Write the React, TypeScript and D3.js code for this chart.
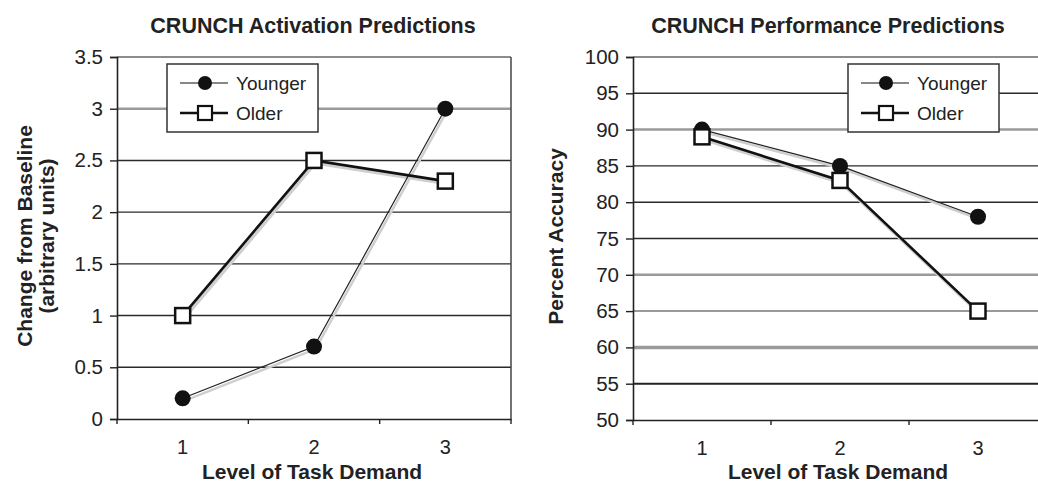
import * as d3 from "d3";
import { FC, useEffect, useRef } from "react";

// shared categories
const levels = ["1", "2", "3"];

// left panel data
const activationYounger = [0.2, 0.7, 3.0];
const activationOlder = [1.0, 2.5, 2.3];
const activationTicks = [0, 0.5, 1, 1.5, 2, 2.5, 3, 3.5];

// right panel data
const performanceYounger = [90, 85, 78];
const performanceOlder = [89, 83, 65];
const performanceTicks = [50, 55, 60, 65, 70, 75, 80, 85, 90, 95, 100];

const FONT = "'Liberation Sans', Arial, Helvetica, sans-serif";

// scanned gridlines are not uniform, so some ticks get lighter / heavier lines
type GridStyle = { color: string; width: number };
const defaultGrid: GridStyle = { color: "#2a2a2a", width: 1.4 };

interface PanelProps {
  title: string;
  yTitle: string[];
  younger: number[];
  older: number[];
  ticks: number[];
  box: { left: number; right: number; top: number; bottom: number };
  titleX: number;
  xTitleX: number;
  yTitleX: number[];
  legendX: number;
  showRightBorder: boolean;
  gridStyles: Record<string, GridStyle>;
}

const Panel: FC<PanelProps> = (p) => {
  const ref = useRef<SVGGElement>(null);

  useEffect(() => {
    const g = d3.select(ref.current);
    g.selectAll("*").remove();

    const { left, right, top, bottom } = p.box;
    const x = d3.scaleBand().domain(levels).range([left, right]);
    const y = d3
      .scaleLinear()
      .domain(d3.extent(p.ticks) as [number, number])
      .range([bottom, top]);

    // gridlines
    g.selectAll("line.grid")
      .data(p.ticks.slice(1))
      .enter()
      .append("line")
      .attr("x1", left)
      .attr("x2", right)
      .attr("y1", (d) => y(d))
      .attr("y2", (d) => y(d))
      .attr("stroke", (d) => (p.gridStyles[String(d)] || defaultGrid).color)
      .attr("stroke-width", (d) => (p.gridStyles[String(d)] || defaultGrid).width);

    if (p.showRightBorder) {
      g.append("line")
        .attr("x1", right)
        .attr("x2", right)
        .attr("y1", top)
        .attr("y2", bottom)
        .attr("stroke", "#444")
        .attr("stroke-width", 1.5);
    }

    // axes
    const yAxis = d3
      .axisLeft(y)
      .tickValues(p.ticks)
      .tickSize(7)
      .tickPadding(7)
      .tickFormat((d) => String(d));
    const ya = g.append("g").attr("transform", `translate(${left},0)`).call(yAxis);
    ya.select(".domain").attr("stroke", "#222").attr("stroke-width", 1.6);
    ya.selectAll(".tick line").attr("stroke", "#222").attr("stroke-width", 1.4);
    ya.selectAll(".tick text")
      .attr("font-family", FONT)
      .attr("font-size", 20.5)
      .attr("fill", "#222");

    const xAxis = d3.axisBottom(x).tickSize(0).tickPadding(21);
    const xa = g.append("g").attr("transform", `translate(0,${bottom})`).call(xAxis);
    xa.select(".domain").attr("stroke", "#222").attr("stroke-width", 1.6);
    xa.selectAll(".tick text")
      .attr("font-family", FONT)
      .attr("font-size", 20)
      .attr("fill", "#222");
    // category boundary ticks
    const bounds = [...levels.map((l) => x(l) as number), right];
    g.selectAll("line.xtick")
      .data(bounds)
      .enter()
      .append("line")
      .attr("x1", (d) => d)
      .attr("x2", (d) => d)
      .attr("y1", bottom)
      .attr("y2", bottom + 5)
      .attr("stroke", "#222")
      .attr("stroke-width", 1.4);

    const cx = (_: number, i: number) => (x(levels[i]) as number) + x.bandwidth() / 2;
    const line = d3.line<number>().x(cx).y((d) => y(d));
    const shadow = d3
      .line<number>()
      .x((d, i) => cx(d, i) + 1.5)
      .y((d) => y(d) + 2.5);

    // soft drop shadows
    [p.younger, p.older].forEach((s, k) => {
      g.append("path")
        .datum(s)
        .attr("d", shadow)
        .attr("fill", "none")
        .attr("stroke", "#cfcfcf")
        .attr("stroke-width", k === 0 ? 2.5 : 3.5);
    });

    // series lines
    g.append("path")
      .datum(p.younger)
      .attr("d", line)
      .attr("fill", "none")
      .attr("stroke", "#222")
      .attr("stroke-width", 1.2);
    g.append("path")
      .datum(p.older)
      .attr("d", line)
      .attr("fill", "none")
      .attr("stroke", "#111")
      .attr("stroke-width", 2.6);

    // markers
    g.selectAll("circle.young")
      .data(p.younger)
      .enter()
      .append("circle")
      .attr("cx", cx)
      .attr("cy", (d) => y(d))
      .attr("r", 8)
      .attr("fill", "#111");
    g.selectAll("rect.old")
      .data(p.older)
      .enter()
      .append("rect")
      .attr("x", (d, i) => cx(d, i) - 7.5)
      .attr("y", (d) => y(d) - 7.5)
      .attr("width", 15)
      .attr("height", 15)
      .attr("fill", "white")
      .attr("stroke", "#111")
      .attr("stroke-width", 2.5);

    // legend
    const lx = p.legendX;
    const lg = g.append("g");
    lg.append("rect")
      .attr("x", lx)
      .attr("y", 64)
      .attr("width", 151)
      .attr("height", 68)
      .attr("fill", "white")
      .attr("stroke", "#333")
      .attr("stroke-width", 1.5);
    [
      { label: "Younger", yy: 83, w: 1.2 },
      { label: "Older", yy: 113, w: 2.6 },
    ].forEach((row, i) => {
      lg.append("line")
        .attr("x1", lx + 13)
        .attr("x2", lx + 61)
        .attr("y1", row.yy)
        .attr("y2", row.yy)
        .attr("stroke", "#111")
        .attr("stroke-width", row.w);
      if (i === 0) {
        lg.append("circle")
          .attr("cx", lx + 38)
          .attr("cy", row.yy)
          .attr("r", 7)
          .attr("fill", "#111");
      } else {
        lg.append("rect")
          .attr("x", lx + 31)
          .attr("y", row.yy - 7)
          .attr("width", 14)
          .attr("height", 14)
          .attr("fill", "white")
          .attr("stroke", "#111")
          .attr("stroke-width", 2.2);
      }
      lg.append("text")
        .attr("x", lx + 69)
        .attr("y", row.yy + 7)
        .attr("font-family", FONT)
        .attr("font-size", 19)
        .attr("fill", "#222")
        .text(row.label);
    });

    // titles
    g.append("text")
      .attr("x", p.titleX)
      .attr("y", 33)
      .attr("text-anchor", "middle")
      .attr("font-family", FONT)
      .attr("font-weight", "bold")
      .attr("font-size", 21.5)
      .attr("fill", "#222")
      .text(p.title);
    g.append("text")
      .attr("x", p.xTitleX)
      .attr("y", 479)
      .attr("text-anchor", "middle")
      .attr("font-family", FONT)
      .attr("font-weight", "bold")
      .attr("font-size", 21)
      .attr("fill", "#222")
      .text("Level of Task Demand");
    p.yTitle.forEach((t, i) => {
      g.append("text")
        .attr("transform", `translate(${p.yTitleX[i]},${(top + bottom) / 2 - 2}) rotate(-90)`)
        .attr("text-anchor", "middle")
        .attr("font-family", FONT)
        .attr("font-weight", "bold")
        .attr("font-size", 21)
        .attr("fill", "#222")
        .text(t);
    });
  }, [p]);

  return <g ref={ref} />;
};

export default function App() {
  return (
    <svg
      width={1038}
      height={485}
      style={{ position: "absolute", left: 0, top: 0, background: "white" }}
    >
      <Panel
        title="CRUNCH Activation Predictions"
        yTitle={["Change from Baseline", "(arbitrary units)"]}
        younger={activationYounger}
        older={activationOlder}
        ticks={activationTicks}
        box={{ left: 117, right: 511, top: 57, bottom: 419 }}
        titleX={313}
        xTitleX={312}
        yTitleX={[32, 54]}
        legendX={167}
        showRightBorder={true}
        gridStyles={{
          "3.5": { color: "#666", width: 1.5 },
          "3": { color: "#9a9a9a", width: 2.5 },
        }}
      />
      <Panel
        title="CRUNCH Performance Predictions"
        yTitle={["Percent Accuracy"]}
        younger={performanceYounger}
        older={performanceOlder}
        ticks={performanceTicks}
        box={{ left: 633, right: 1047, top: 57, bottom: 420 }}
        titleX={828}
        xTitleX={838}
        yTitleX={[563]}
        legendX={848}
        showRightBorder={false}
        gridStyles={{
          "100": { color: "#666", width: 1.5 },
          "90": { color: "#9a9a9a", width: 2.5 },
          "70": { color: "#9a9a9a", width: 2.5 },
          "65": { color: "#777", width: 1.5 },
          "60": { color: "#9a9a9a", width: 3.5 },
          "55": { color: "#222", width: 2 },
        }}
      />
    </svg>
  );
}
